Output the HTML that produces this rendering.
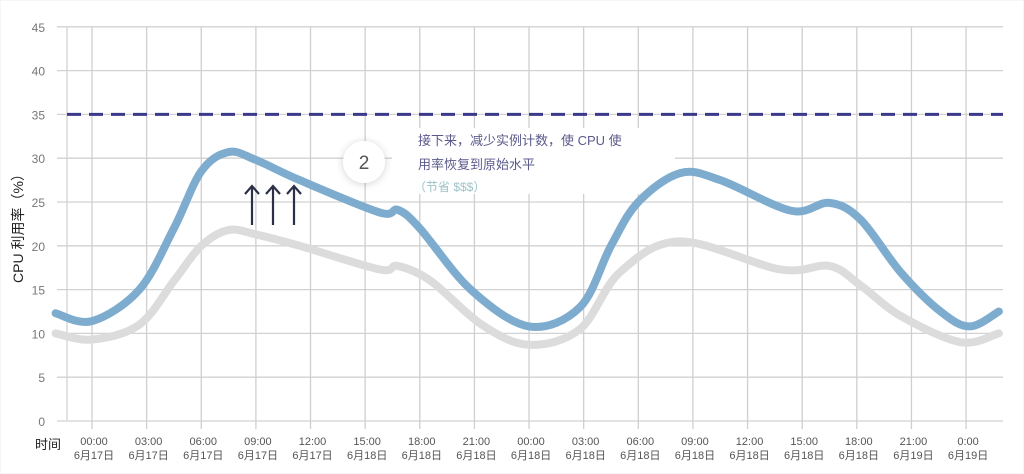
<!DOCTYPE html>
<html><head><meta charset="utf-8"><style>
body{margin:0;background:#fff;}
svg{display:block;font-family:"Liberation Sans","Noto Sans CJK SC",sans-serif;}
</style></head><body>
<svg id="c" width="1024" height="474" viewBox="0 0 1024 474" xmlns="http://www.w3.org/2000/svg">
<defs><filter id="sh" x="-50%" y="-50%" width="200%" height="200%"><feDropShadow dx="0" dy="1" stdDeviation="4" flood-color="#000" flood-opacity="0.18"/></filter></defs>
<rect x="0" y="0" width="1024" height="474" fill="#fff" stroke="#eee"/>
<g id="grid"></g>
<rect x="392" y="128" width="283" height="66" fill="#fff"/>
<g id="series"></g>
<circle cx="364" cy="162" r="21" fill="#fff" filter="url(#sh)"/>
<text x="364" y="169" text-anchor="middle" font-size="19" fill="#555">2</text>
<text x="418" y="145" font-size="13" fill="#5b5a8c">接下来，减少实例计数，使 CPU 使</text>
<text x="418" y="169" font-size="13" fill="#5b5a8c">用率恢复到原始水平</text>
<text x="414" y="191" font-size="12" fill="#9cc3c8">（节省 $$$）</text>
<g stroke="#2b3048" stroke-width="2.2" fill="none">
<path d="M252 225V187M245 194L252 186L259 194"/><path d="M273 225V187M266 194L273 186L280 194"/><path d="M294 225V187M287 194L294 186L301 194"/>
</g>
<text transform="translate(23,225) rotate(-90)" text-anchor="middle" font-size="14" fill="#222">CPU 利用率（%）</text>
<text x="35" y="449" font-size="13" fill="#222">时间</text>
</svg>
<script>
const yTicks=[0,5,10,15,20,25,30,35,40,45];
const xHours=[0,3,6,9,12,15,18,21,24,27,30,33,36,39,42,45,48];
const xTime=["00:00","03:00","06:00","09:00","12:00","15:00","18:00","21:00","00:00","03:00","06:00","09:00","12:00","15:00","18:00","21:00","0:00"];
const xDate=["6月17日","6月17日","6月17日","6月17日","6月17日","6月18日","6月18日","6月18日","6月18日","6月18日","6月18日","6月18日","6月18日","6月18日","6月18日","6月19日","6月19日"];
const threshold=35;
const blueH=[-2,0,2.6,4.5,6,7.5,9,11.4,15.8,16.8,18,20.8,24,26.8,28.5,30,32.3,34.5,38.4,40.5,42.2,44.4,46.6,48.2,49.8];
const blueV=[12.3,11.4,15,22,28.5,30.7,29.8,27.5,23.8,24.1,22,15,10.8,13,20,25,28.3,27.5,24,24.9,23,17,12.5,10.8,12.5];
const grayH=[-2,0,2.6,4.5,6,7.5,9,11.4,15.8,16.8,18.6,21.4,24,26.8,29,32.3,37.8,40.5,42.2,44.4,47.7,49.8];
const grayV=[10,9.3,11,16,20,21.8,21.3,20,17.3,17.7,16,11,8.7,10.5,17,20.5,17.3,17.7,15.5,12,9,10];
const NS="http://www.w3.org/2000/svg";
const X=h=>92+h*18.21, Y=v=>421-v*8.76;
const L=67,R=1003;
const g=document.getElementById('grid'), s=document.getElementById('series');
function el(t,a,p){const e=document.createElementNS(NS,t);for(const k in a)e.setAttribute(k,a[k]);p.appendChild(e);return e;}
yTicks.forEach(v=>{
 const ln=el('line',{x1:L-10,x2:R,y1:Y(v),y2:Y(v),stroke:'#d2d2d2','stroke-width':1.3},g);
 
 
 const t=el('text',{x:L-22,y:Y(v)+5,'text-anchor':'end','font-size':12,fill:'#777'},g);
 
 
 t.textContent=v;
});
const lft=el('line',{x1:L,x2:L,y1:Y(45),y2:Y(0),stroke:'#d2d2d2','stroke-width':1.3},g);


xHours.forEach((h,i)=>{
 const ln=el('line',{x1:X(h),x2:X(h),y1:Y(45),y2:Y(0)+8,stroke:'#cfcfcf','stroke-width':1.3},g);
 
 
 const t=el('text',{x:X(h)+2,y:445,'text-anchor':'middle','font-size':11,fill:'#555'},g);
 
 
 t.textContent=xTime[i];
 const d=el('text',{x:X(h)+2,y:459,'text-anchor':'middle','font-size':11,fill:'#555'},g);
 
 
 d.textContent=xDate[i];
});
function path(H,V){
 const p=H.map((h,i)=>[X(h),Y(V[i])]);
 let d='M'+p[0][0]+' '+p[0][1];
 for(let i=0;i<p.length-1;i++){
  const p0=p[i-1]||p[i],p1=p[i],p2=p[i+1],p3=p[i+2]||p2;
  const c1=[p1[0]+(p2[0]-p0[0])/6,p1[1]+(p2[1]-p0[1])/6];
  const c2=[p2[0]-(p3[0]-p1[0])/6,p2[1]-(p3[1]-p1[1])/6];
  d+=` C${c1[0]} ${c1[1]} ${c2[0]} ${c2[1]} ${p2[0]} ${p2[1]}`;
 }
 return d;
}
const gp=el('path',{d:path(grayH,grayV),fill:'none',stroke:'#dcdcdc','stroke-width':8,'stroke-linecap':'round'},s);


const bp=el('path',{d:path(blueH,blueV),fill:'none',stroke:'#7eaccf','stroke-width':8,'stroke-linecap':'round'},s);


const th=el('line',{x1:L,x2:R,y1:Y(threshold),y2:Y(threshold),stroke:'#3b3a8a','stroke-width':3,'stroke-dasharray':'14 8'},s);


</script>
</body></html>
